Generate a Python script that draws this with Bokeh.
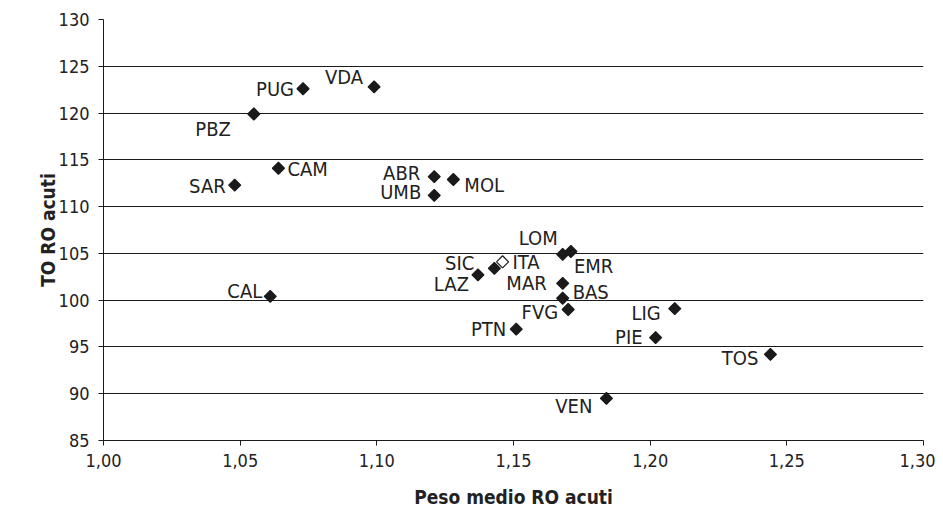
import math
from bokeh.plotting import figure
from bokeh.models import ColumnDataSource, FixedTicker, CustomJSTickFormatter
from bokeh.core.properties import value
from bokeh.embed import file_html
from bokeh.resources import INLINE

# ---- data ----
regions = ["PUG", "VDA", "PBZ", "CAM", "SAR", "ABR", "UMB", "MOL", "LOM", "EMR",
           "ITA", "SIC", "LAZ", "MAR", "BAS", "FVG", "PTN", "LIG", "PIE", "TOS",
           "VEN", "CAL"]
peso_medio = [1.073, 1.099, 1.055, 1.064, 1.048, 1.121, 1.121, 1.128, 1.168, 1.171,
              1.146, 1.143, 1.137, 1.168, 1.168, 1.170, 1.151, 1.209, 1.202, 1.244,
              1.184, 1.061]
to_ro = [122.6, 122.8, 119.9, 114.1, 112.3, 113.2, 111.2, 112.9, 104.9, 105.2,
         104.1, 103.4, 102.7, 101.8, 100.2, 99.0, 96.9, 99.1, 96.0, 94.2,
         89.5, 100.4]
x_ticks = [1.00, 1.05, 1.10, 1.15, 1.20, 1.25, 1.30]
y_ticks = [85, 90, 95, 100, 105, 110, 115, 120, 125, 130]

# ---- label placement (screen px offsets) ----
label_dx = [-9, -11, -23, 9, -9, -14, -13, 11, -5, 3,
            10, -20, -9, -16, 10, -10, -10, -14, -13, -12,
            -14, -8]
label_dy = [0, -10, 15, 1, 1, -4, -3, 6, -16, 14,
            0, -5, 9, 0, -6, 2, 0, 4, -1, 4,
            8, -5]
label_align = ["left" if d > 0 else "right" for d in label_dx]

FONT = "'DejaVu Sans Condensed', 'Liberation Sans', sans-serif"
INK = "#1a1a1a"

src = ColumnDataSource(dict(x=peso_medio, y=to_ro, name=regions,
                            dx=label_dx, dy=label_dy, align=label_align,
                            fill=["white" if r == "ITA" else INK for r in regions]))

p = figure(width=935, height=513, x_range=(1.0, 1.30), y_range=(85, 130),
           output_backend="svg", toolbar_location=None,
           min_border_left=103, min_border_right=12, min_border_top=19, min_border_bottom=73)
p.outline_line_color = None
p.background_fill_color = "white"

p.xgrid.grid_line_color = None
p.ygrid.grid_line_color = INK
p.ygrid.grid_line_width = 1
p.ygrid.ticker = FixedTicker(ticks=y_ticks)

fmt = CustomJSTickFormatter(code="return tick.toFixed(2).replace('.', ',');")
p.xaxis.ticker = FixedTicker(ticks=x_ticks)
p.xaxis.formatter = fmt
p.yaxis.ticker = FixedTicker(ticks=y_ticks)

for ax in (p.xaxis[0], p.yaxis[0]):
    ax.axis_line_color = INK
    ax.major_tick_line_color = INK
    ax.major_tick_out = 5
    ax.major_tick_in = 0
    ax.minor_tick_line_color = None
    ax.major_label_text_font = FONT
    ax.major_label_text_font_size = "18px"
    ax.major_label_text_color = "#222222"
    ax.axis_label_text_font = FONT
    ax.axis_label_text_font_style = "bold"
    ax.axis_label_text_font_size = "19px"
    ax.axis_label_text_color = "#222222"

p.xaxis.axis_label = "Peso medio RO acuti"
p.yaxis.axis_label = "TO RO acuti"
p.xaxis.major_label_standoff = 8
p.xaxis.axis_label_standoff = 16
p.yaxis.major_label_standoff = 9
p.yaxis.axis_label_standoff = -3

p.scatter("x", "y", source=src, marker="square", size=8.5, angle=math.pi / 4,
          fill_color="fill", line_color=INK, line_width=1.2)

p.text("x", "y", text="name", source=src, x_offset="dx", y_offset="dy",
       text_align="align", text_baseline="middle",
       text_font=value(FONT), text_font_size="20px", text_color="#222222")

open("out.html", "w").write(file_html(p, INLINE))
